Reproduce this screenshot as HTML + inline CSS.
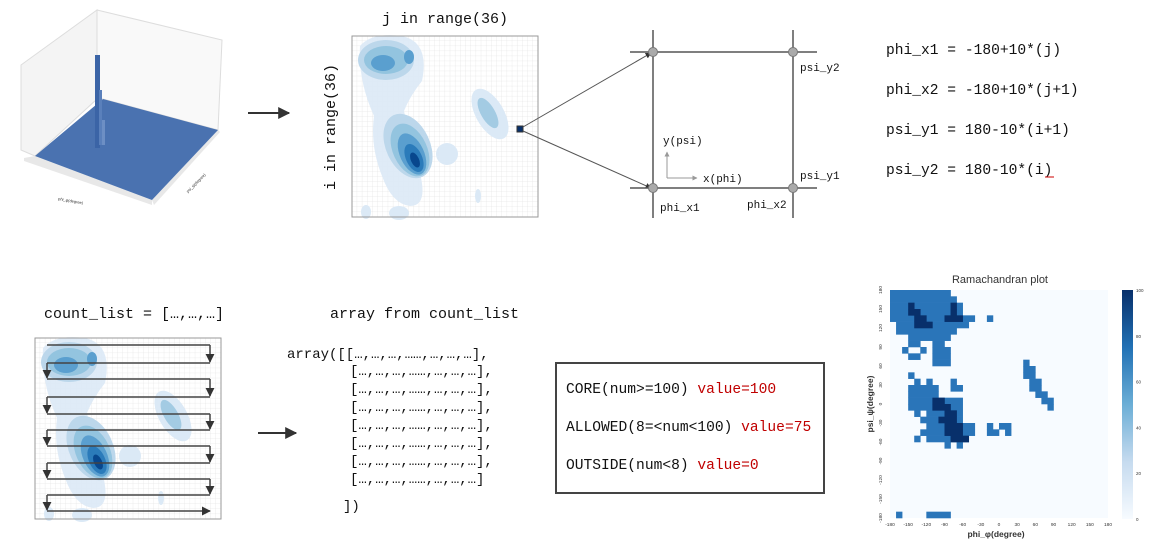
<!DOCTYPE html>
<html><head><meta charset="utf-8"><style>
html,body{margin:0;padding:0;background:#fff;}
svg{display:block;}
.m{font-family:"Liberation Mono",monospace;fill:#111;}
.s{font-family:"Liberation Sans",sans-serif;}
</style></head><body>
<svg id="root" width="1167" height="551" viewBox="0 0 1167 551" xmlns="http://www.w3.org/2000/svg">
<defs>
<marker id="ah" viewBox="0 0 10 10" refX="9" refY="5" markerWidth="6" markerHeight="6" orient="auto"><path d="M0,0 L10,5 L0,10 z" fill="#333"/></marker>
<marker id="ahg" viewBox="0 0 10 10" refX="9" refY="5" markerWidth="5" markerHeight="5" orient="auto"><path d="M0,0 L10,5 L0,10 z" fill="#999"/></marker>
<pattern id="grid" width="5.17" height="5.03" patternUnits="userSpaceOnUse"><path d="M5.17,0 V5.03 M0,5.03 H5.17" stroke="#dcdcdc" stroke-width="0.5" fill="none"/></pattern>
<g id="kde">
  <rect x="0" y="0" width="186" height="181" fill="#fff"/>
  <rect x="0" y="0" width="186" height="181" fill="url(#grid)"/>
  <path d="M8,10 Q20,-4 50,0 Q78,6 70,45 Q58,60 52,75 Q60,110 66,130 Q78,170 58,170 Q40,168 30,140 Q18,110 22,80 Q6,45 8,10 z" fill="#dbe9f6" opacity="0.9"/>
  <ellipse cx="34" cy="24" rx="28" ry="20" fill="#bcd7eb"/>
  <ellipse cx="34" cy="24" rx="22" ry="14" fill="#93c4df"/>
  <ellipse cx="31" cy="27" rx="12" ry="8" fill="#5a9fcf"/>
  <ellipse cx="57" cy="21" rx="5" ry="7" fill="#5a9fcf"/>
  <ellipse cx="56" cy="110" rx="22" ry="34" transform="rotate(-25 56 110)" fill="#bcd7eb"/>
  <ellipse cx="58" cy="114" rx="17" ry="28" transform="rotate(-25 58 114)" fill="#93c4df"/>
  <ellipse cx="60" cy="118" rx="12" ry="22" transform="rotate(-25 60 118)" fill="#5a9fcf"/>
  <ellipse cx="62" cy="122" rx="8" ry="15" transform="rotate(-25 62 122)" fill="#2b7bba"/>
  <ellipse cx="63" cy="124" rx="4" ry="8" transform="rotate(-25 63 124)" fill="#08478d"/>
  <ellipse cx="138" cy="78" rx="14" ry="28" transform="rotate(-30 138 78)" fill="#dbe9f6"/>
  <ellipse cx="136" cy="77" rx="7" ry="17" transform="rotate(-30 136 77)" fill="#a3cbe3"/>
  <ellipse cx="95" cy="118" rx="11" ry="11" fill="#dbe9f6"/>
  <ellipse cx="126" cy="160" rx="3" ry="7" fill="#dbe9f6"/>
  <ellipse cx="14" cy="176" rx="5" ry="7" fill="#dbe9f6"/>
  <ellipse cx="47" cy="177" rx="10" ry="7" fill="#dbe9f6"/>
  <rect x="0" y="0" width="186" height="181" fill="none" stroke="#999" stroke-width="1"/>
</g>
</defs>

<g>
  <polygon points="21,65 97,10 97,99 35,156 21,150" fill="#f4f4f4" stroke="#ddd"/>
  <polygon points="97,10 222,40 218,130 103,99 97,99" fill="#f9f9f9" stroke="#ddd"/>
  <polygon points="24,158 35,156 152,200 152,205 24,161" fill="#e8e8e8"/>
  <polygon points="152,200 218,130 220,132 154,205" fill="#e8e8e8"/>
  <polygon points="35,156 103,99 218,130 152,200" fill="#4a72b0"/>
  <rect x="95" y="55" width="5" height="93" fill="#3b64a6"/>
  <rect x="99" y="90" width="3" height="55" fill="#5a80bb"/>
  <rect x="102" y="120" width="3" height="25" fill="#6d8fc4"/>
  <text class="s" x="58" y="200" font-size="4" fill="#333" transform="rotate(10 58 200)">phi_φ(degree)</text>
  <text class="s" x="188" y="193" font-size="4" fill="#333" transform="rotate(-45 188 193)">psi_ψ(degree)</text>
</g>
<line x1="248" y1="113" x2="289" y2="113" stroke="#333" stroke-width="2" marker-end="url(#ah)"/>

<text class="m" x="445" y="23" font-size="15" text-anchor="middle">j in range(36)</text>
<text class="m" x="335" y="127" font-size="15" text-anchor="middle" transform="rotate(-90 335 127)">i in range(36)</text>
<use href="#kde" x="352" y="36"/>
<rect x="517" y="126" width="6" height="6" fill="#08306b" stroke="#333"/>
<line x1="523" y1="127" x2="651" y2="53" stroke="#555" marker-end="url(#ah)"/>
<line x1="523" y1="131" x2="651" y2="188" stroke="#555" marker-end="url(#ah)"/>

<g stroke="#555" stroke-width="1.5">
  <line x1="653" y1="30" x2="653" y2="218"/>
  <line x1="793" y1="30" x2="793" y2="218"/>
  <line x1="630" y1="52" x2="817" y2="52"/>
  <line x1="630" y1="188" x2="817" y2="188"/>
</g>
<g fill="#aaa" stroke="#777">
  <circle cx="653" cy="52" r="4.5"/><circle cx="793" cy="52" r="4.5"/>
  <circle cx="653" cy="188" r="4.5"/><circle cx="793" cy="188" r="4.5"/>
</g>
<line x1="667" y1="178" x2="667" y2="152" stroke="#999" marker-end="url(#ahg)"/>
<line x1="667" y1="178" x2="697" y2="178" stroke="#999" marker-end="url(#ahg)"/>
<g class="m" font-size="11">
  <text x="800" y="71">psi_y2</text>
  <text x="800" y="179">psi_y1</text>
  <text x="660" y="211">phi_x1</text>
  <text x="747" y="208">phi_x2</text>
  <text x="663" y="144">y(psi)</text>
  <text x="703" y="182">x(phi)</text>
</g>
<g class="m" font-size="14.6">
  <text x="886" y="54">phi_x1 = -180+10*(j)</text>
  <text x="886" y="94">phi_x2 = -180+10*(j+1)</text>
  <text x="886" y="134">psi_y1 = 180-10*(i+1)</text>
  <text x="886" y="174">psi_y2 = 180-10*(i)</text>
  <line x1="1045" y1="177" x2="1054" y2="177" stroke="#c00" stroke-width="1"/>
</g>

<text class="m" x="44" y="318" font-size="15">count_list = […,…,…]</text>
<use href="#kde" x="35" y="338"/>
<g id="serp" stroke="#444" stroke-width="1.5" fill="none"></g>
<text class="m" x="330" y="318" font-size="15">array from count_list</text>
<line x1="258" y1="433" x2="296" y2="433" stroke="#333" stroke-width="2" marker-end="url(#ah)"/>
<g class="m" font-size="14">
  <text x="287" y="358">array([[…,…,…,……,…,…,…],</text>
  <text x="350" y="375">[…,…,…,……,…,…,…],</text>
  <text x="350" y="393">[…,…,…,……,…,…,…],</text>
  <text x="350" y="411">[…,…,…,……,…,…,…],</text>
  <text x="350" y="429">[…,…,…,……,…,…,…],</text>
  <text x="350" y="447">[…,…,…,……,…,…,…],</text>
  <text x="350" y="465">[…,…,…,……,…,…,…],</text>
  <text x="350" y="483">[…,…,…,……,…,…,…]</text>
  <text x="343" y="510">])</text>
</g>

<rect x="556" y="363" width="268" height="130" fill="#fff" stroke="#444" stroke-width="2"/>
<g class="m" font-size="14.6">
  <text x="566" y="393">CORE(num&gt;=100) <tspan fill="#c00000">value=100</tspan></text>
  <text x="566" y="431">ALLOWED(8=&lt;num&lt;100) <tspan fill="#c00000">value=75</tspan></text>
  <text x="566" y="469">OUTSIDE(num&lt;8) <tspan fill="#c00000">value=0</tspan></text>
</g>

<text class="s" x="1000" y="283" font-size="11" fill="#333" text-anchor="middle">Ramachandran plot</text>
<g id="heat"></g>
<text class="s" x="996" y="537" font-size="8.5" font-weight="bold" fill="#333" text-anchor="middle">phi_φ(degree)</text>
<text class="s" x="873" y="404" font-size="8.5" font-weight="bold" fill="#333" text-anchor="middle" transform="rotate(-90 873 404)">psi_ψ(degree)</text>
<defs><linearGradient id="cb" x1="0" y1="1" x2="0" y2="0">
<stop offset="0" stop-color="#f7fbff"/><stop offset="0.25" stop-color="#c6dbef"/><stop offset="0.5" stop-color="#6baed6"/><stop offset="0.75" stop-color="#2171b5"/><stop offset="1" stop-color="#08306b"/></linearGradient></defs>
<rect x="1122" y="290" width="11" height="229" fill="url(#cb)"/>
<g id="cbt" class="s" font-size="4.5" fill="#333"></g>
</svg>
<script>
const NS='http://www.w3.org/2000/svg';
const allowedRuns=[[0,0,9],[1,0,10],[2,0,11],[3,0,11],[4,0,13],[4,16,16],[5,1,12],[6,1,10],[7,3,9],[8,3,4],[8,7,8],[9,2,2],[9,5,5],[9,7,9],[10,3,4],[10,7,9],[11,7,9],[11,22,22],[12,22,23],[13,3,3],[13,22,23],[14,4,4],[14,6,6],[14,10,10],[14,23,24],[15,3,7],[15,10,11],[15,23,24],[16,3,7],[16,24,25],[17,3,11],[17,25,26],[18,3,11],[18,26,26],[19,4,4],[19,6,11],[20,5,11],[21,6,13],[21,16,16],[21,18,19],[22,5,13],[22,16,17],[22,19,19],[23,4,4],[23,6,12],[24,9,9],[24,11,11],[35,1,1],[35,6,9]];
const coreRuns=[[2,3,3],[2,10,10],[3,3,4],[3,10,10],[4,4,5],[4,9,11],[5,4,6],[17,7,8],[18,7,9],[19,9,10],[20,8,10],[21,9,11],[22,9,11],[23,10,12]];
const allowedValue=75, coreValue=100;
const xTicks=[-180,-150,-120,-90,-60,-30,0,30,60,90,120,150,180];
const yTicks=[180,150,120,90,60,30,0,-30,-60,-90,-120,-150,-180];
const cbTicks=[0,20,40,60,80,100];
const nCells=36;
const X0=890,X1=1108,Y0=290,Y1=518;
const cw=(X1-X0)/nCells, ch=(Y1-Y0)/nCells;
const xs=v=>X0+(v+180)/360*(X1-X0);
const ys=v=>Y0+(180-v)/360*(Y1-Y0);
const color=v=>v>=100?'#08306b':(v>=75?'#2a75b9':'#f7fbff');
const heat=document.getElementById('heat');
const bg=document.createElementNS(NS,'rect');


bg.setAttribute('x',X0);bg.setAttribute('y',Y0);bg.setAttribute('width',X1-X0);bg.setAttribute('height',Y1-Y0);bg.setAttribute('fill','#f7fbff');
heat.appendChild(bg);
function drawRuns(runs,val,name){
  runs.forEach(([r,c0,c1])=>{
    const el=document.createElementNS(NS,'rect');
    
    
    el.setAttribute('x',X0+c0*cw);el.setAttribute('y',Y0+r*ch);
    el.setAttribute('width',(c1-c0+1)*cw+0.3);el.setAttribute('height',ch+0.3);
    el.setAttribute('fill',color(val));
    heat.appendChild(el);
  });
}
drawRuns(allowedRuns,allowedValue,'allowed-cell');
drawRuns(coreRuns,coreValue,'core-cell');
xTicks.forEach(v=>{
  const t=document.createElementNS(NS,'text');
  
  
  t.setAttribute('x',xs(v));t.setAttribute('y',526);t.setAttribute('font-size','4.8');
  t.setAttribute('text-anchor','middle');t.setAttribute('fill','#333');t.setAttribute('font-family','Liberation Sans, sans-serif');
  t.textContent=v;heat.appendChild(t);
});
yTicks.forEach(v=>{
  const t=document.createElementNS(NS,'text');
  
  
  const y=ys(v);
  t.setAttribute('x',882);t.setAttribute('y',y);t.setAttribute('font-size','4.8');
  t.setAttribute('text-anchor','middle');t.setAttribute('fill','#333');t.setAttribute('font-family','Liberation Sans, sans-serif');
  t.setAttribute('transform','rotate(-90 882 '+y+')');
  t.textContent=v;heat.appendChild(t);
});
const cbt=document.getElementById('cbt');
cbTicks.forEach(v=>{
  const t=document.createElementNS(NS,'text');
  
  
  t.setAttribute('x',1136);t.setAttribute('y',519-v/100*229+2);
  t.textContent=v;cbt.appendChild(t);
});
const serp=document.getElementById('serp');
function seg(x1,y1,x2,y2,arrow){
  const l=document.createElementNS(NS,'line');
  
  
  l.setAttribute('x1',x1);l.setAttribute('y1',y1);l.setAttribute('x2',x2);l.setAttribute('y2',y2);
  if(arrow)l.setAttribute('marker-end','url(#ah)');
  serp.appendChild(l);
}
const hl=[345,363,379,397,414,430,446,463,479,495,511];
const xl=47,xr=210;
for(let k=0;k<hl.length;k++){
  const y=hl[k], last=k===hl.length-1;
  if(k%2===0){ seg(xl,y,xr,y,last); if(!last) seg(xr,y,xr,hl[k+1]-1,true);}
  else { seg(xr,y,xl,y,false); if(!last) seg(xl,y,xl,hl[k+1]-1,true);}
}
</script>
</body></html>
